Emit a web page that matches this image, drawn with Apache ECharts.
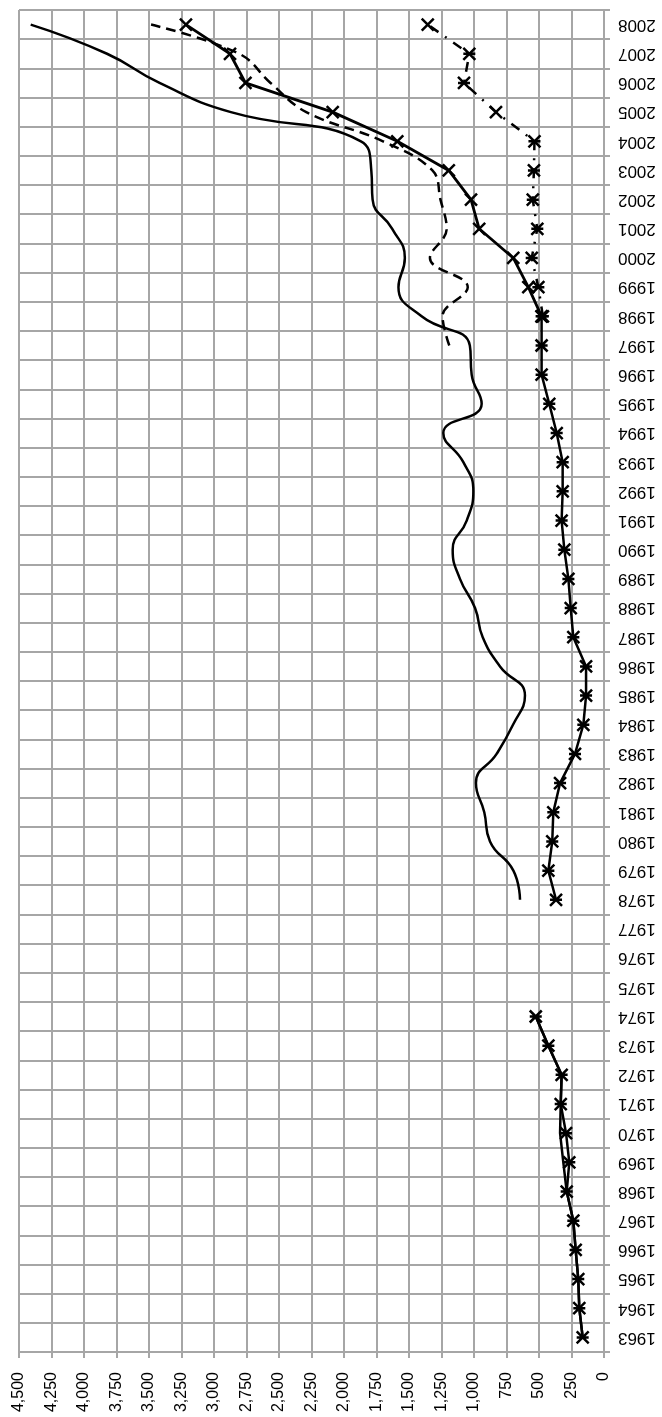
<!DOCTYPE html>
<html>
<head>
<meta charset="utf-8">
<script src="https://cdn.jsdelivr.net/npm/echarts@6/dist/echarts.min.js"></script>
<style>
  html, body { margin: 0; padding: 0; background: #fff; }
  #chart { width: 662px; height: 1417px; }
</style>
</head>
<body>
<div id="chart"></div>
<script>
// years on the (rotated) category axis
const years = ['1963', '1964', '1965', '1966', '1967', '1968', '1969', '1970', '1971', '1972',
  '1973', '1974', '1975', '1976', '1977', '1978', '1979', '1980', '1981', '1982',
  '1983', '1984', '1985', '1986', '1987', '1988', '1989', '1990', '1991', '1992',
  '1993', '1994', '1995', '1996', '1997', '1998', '1999', '2000', '2001', '2002',
  '2003', '2004', '2005', '2006', '2007', '2008'];

// solid line, star markers (gap 1975-1977)
const starSeries = [164, 190, 198, 218, 236, 287, 267, 292, 333, 326, 428, 525,
  null, null, null,
  369, 428, 398, 390, 338, 223, 159, 138, 138, 236, 256, 274, 305, 326, 318, 318,
  364, 421, 480, 480, 480];
// second solid line hugging the first one in the 60s
const twinSeries = [164, 190, 198, 218, 236, 287, 313, 338, 333, 326, 428, 525];
// solid line, x markers, from 1998
const crossSeries = [480, 582, 698, 960, 1023, 1194, 1590, 2087, 2758, 2877, 3216];
// dash-dot line, from 1998
const dashDotSeries = [470, 505, 556, 513, 548, 539, 535, 831, 1077, 1036, 1356];
// smooth solid line, from 1978
const smoothSeries = [646, 697, 877, 921, 985, 826, 700, 608, 800, 933, 992, 1108, 1164,
  1056, 1005, 1082, 1236, 941, 1018, 1032, 1403, 1581, 1532, 1629, 1780, 1790, 1870,
  2870, 3419, 3823, 4410];
// dashed line, from 1997
const dashedSeries = [1190, 1242, 1048, 1339, 1210, 1258, 1320, 1700, 2290, 2565, 2806, 3484];

// x-marker years on the dash-dot line (rest are stars)
const dashDotCrossYears = ['2005', '2008'];

const STAR = 'path://M0,0L10,10M10,0L0,10M0,5L10,5';
const CROSS = 'path://M0,0L10,10M10,0L0,10';

// put a partial series on the full year axis
function place(startYear, values) {
  const out = years.map(() => null);
  const s = years.indexOf(startYear);
  values.forEach((v, i) => { out[s + i] = v; });
  return out;
}

function lineSeries(data, opt) {
  return Object.assign({
    type: 'line',
    data: data,
    symbol: 'none',
    connectNulls: false,
    lineStyle: { color: '#000', width: 2.5, type: 'solid' },
    itemStyle: { color: 'rgba(0,0,0,0)', borderColor: '#000', borderWidth: 2.5 },
    symbolSize: 12,
    showAllSymbol: true,
    silent: true,
  }, opt);
}

const gridColor = '#a6a6a6';
const chart = echarts.init(document.getElementById('chart'));
chart.setOption({
  animation: false,
  backgroundColor: '#fff',
  grid: { left: 19, right: 58, top: 10, bottom: 65, outerBoundsMode: 'none' },
  xAxis: {
    type: 'value',
    min: 0,
    max: 4500,
    interval: 250,
    inverse: true,
    axisLine: { show: true, lineStyle: { color: gridColor, width: 2 } },
    axisTick: { show: true, length: 6, lineStyle: { color: gridColor, width: 2 } },
    splitLine: { show: true, lineStyle: { color: gridColor, width: 2 } },
    axisLabel: {
      rotate: 90,
      margin: 20,
      color: '#000',
      fontSize: 16,
      fontFamily: 'Liberation Sans, Arial, sans-serif',
      formatter: (v) => v.toLocaleString('en-US'),
    },
  },
  yAxis: {
    type: 'category',
    data: years,
    position: 'right',
    boundaryGap: true,
    axisLine: { show: true, lineStyle: { color: gridColor, width: 2 } },
    axisTick: { show: true, length: 6, lineStyle: { color: gridColor, width: 2 } },
    splitLine: { show: true, lineStyle: { color: gridColor, width: 2 } },
    axisLabel: {
      rotate: 180,
      interval: 0,
      margin: 14,
      color: '#000',
      fontSize: 17,
      fontFamily: 'Liberation Sans, Arial, sans-serif',
    },
  },
  series: [
    lineSeries(place('1963', twinSeries), {}),
    lineSeries(place('1963', starSeries), { symbol: STAR }),
    lineSeries(place('1978', smoothSeries), { smooth: 0.5 }),
    lineSeries(place('1997', dashedSeries), {
      smooth: 0.4,
      lineStyle: { color: '#000', width: 2.5, type: [10, 6] },
    }),
    lineSeries(place('1998', dashDotSeries).map((v, i) => v == null ? null : {
      value: v,
      symbol: dashDotCrossYears.indexOf(years[i]) >= 0 ? CROSS : STAR,
    }), {
      symbol: STAR,
      lineStyle: { color: '#000', width: 2.5, type: [10, 8, 2, 8] },
    }),
    lineSeries(place('1998', crossSeries), {
      symbol: CROSS,
      lineStyle: { color: '#000', width: 2.8, type: 'solid' },
    }),
  ],
});
</script>
</body>
</html>
